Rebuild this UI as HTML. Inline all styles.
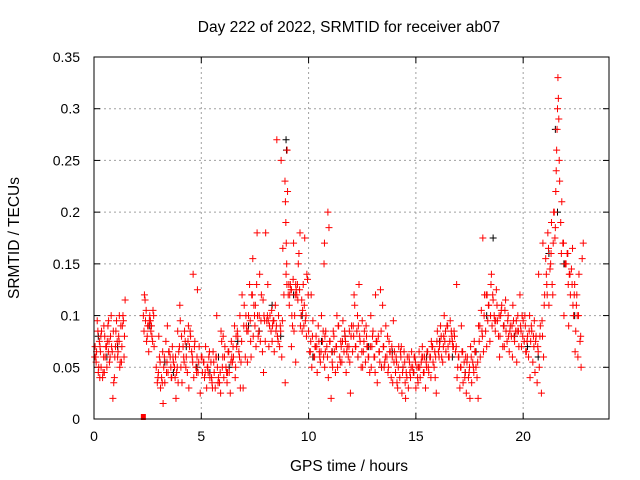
<!DOCTYPE html>
<html><head><meta charset="utf-8">
<style>
html,body{margin:0;padding:0;background:#fff;}
svg{display:block;font-family:"Liberation Sans",sans-serif;}
</style></head>
<body>
<svg id="chart" width="640" height="480" viewBox="0 0 640 480" xmlns="http://www.w3.org/2000/svg">
<rect x="0" y="0" width="640" height="480" fill="#fff"/>
<text x="349" y="32" font-size="15.5" text-anchor="middle" fill="#000">Day 222 of 2022, SRMTID for receiver ab07</text>
<g id="grid"></g>
<g id="ticks"></g>
<g id="black"></g>
<g id="red"></g>
<rect x="94" y="57" width="515" height="362" fill="none" stroke="#000" stroke-width="1"/>
<text x="349" y="471" font-size="15.5" text-anchor="middle" fill="#000">GPS time / hours</text>
<text transform="translate(19,238) rotate(-90)" font-size="15.5" text-anchor="middle" fill="#000">SRMTID / TECUs</text>
</svg>
<script>
const xTicks=[0,5,10,15,20];
const yTicks=[0,0.05,0.1,0.15,0.2,0.25,0.3,0.35];
const yTickLabels=["0","0.05","0.1","0.15","0.2","0.25","0.3","0.35"];
const redX=[0.05,0.1,0.15,0.2,0.25,0.3,0.35,0.4,0.45,0.5,0.55,0.6,0.65,0.7,0.75,0.8,0.85,0.9,0.95,1.0,1.05,1.1,1.15,1.2,1.25,1.3,1.35,1.4,1.45,0.12,0.22,0.32,0.42,0.52,0.62,0.72,0.82,0.92,1.02,1.12,1.22,1.32,1.42,0.08,0.28,0.48,0.68,0.88,1.08,1.28,
2.3,2.35,2.4,2.45,2.5,2.55,2.6,2.65,2.7,2.75,2.8,2.38,2.48,2.58,2.68,2.78,
2.9,2.95,3.0,3.05,3.1,3.15,3.2,3.25,3.3,3.35,3.4,3.45,3.5,3.55,3.6,3.65,3.7,3.75,3.8,3.85,3.9,3.95,4.0,4.05,4.1,4.15,4.2,4.25,4.3,4.35,4.4,4.45,4.5,4.55,4.6,4.65,4.7,4.75,4.8,4.85,4.9,4.95,3.02,3.22,3.42,3.62,3.82,4.02,4.22,4.42,4.62,4.82,3.88,3.92,
5.0,5.05,5.1,5.15,5.2,5.25,5.3,5.35,5.4,5.45,5.5,5.55,5.6,5.65,5.7,5.75,5.8,5.85,5.9,5.95,5.12,5.32,5.52,5.72,5.92,
6.0,6.05,6.1,6.15,6.2,6.25,6.3,6.35,6.4,6.45,6.5,6.55,6.6,6.65,6.7,6.75,6.8,6.85,6.9,6.95,6.02,6.22,6.42,6.62,6.82,
7.0,7.05,7.1,7.15,7.2,7.25,7.3,7.35,7.4,7.45,7.5,7.55,7.6,7.65,7.7,7.75,7.8,7.85,7.9,7.95,7.12,7.32,7.52,7.72,7.92,7.62,7.42,
8.0,8.05,8.1,8.15,8.2,8.25,8.3,8.35,8.4,8.45,8.5,8.55,8.6,8.65,8.7,8.75,8.8,8.85,8.12,8.32,8.52,8.72,
8.9,8.92,8.94,8.96,8.98,9.0,9.02,8.91,8.95,8.99,
9.05,9.1,9.15,9.2,9.25,9.3,9.35,9.4,9.45,9.5,9.55,9.6,9.65,9.7,9.75,9.8,9.85,9.9,9.95,9.12,9.22,9.32,9.42,9.52,9.62,9.72,9.82,9.92,9.2,9.4,
10.0,10.05,10.1,10.15,10.2,10.25,10.3,10.35,10.4,10.45,10.5,10.55,10.6,10.65,10.7,10.75,10.8,10.85,10.9,10.95,10.72,10.74,10.76,10.78,10.12,10.32,10.52,10.92,
11.0,11.05,11.1,11.15,11.2,11.25,11.3,11.35,11.4,11.45,11.5,11.55,11.6,11.65,11.7,11.75,11.8,11.85,11.9,11.95,11.12,11.32,11.52,11.72,11.92,
12.0,12.05,12.1,12.15,12.2,12.25,12.3,12.35,12.4,12.45,12.5,12.55,12.6,12.65,12.7,12.75,12.8,12.85,12.9,12.95,12.12,12.32,12.52,12.72,12.92,
13.0,13.05,13.1,13.15,13.2,13.25,13.3,13.35,13.4,13.45,13.5,13.55,13.6,13.65,13.7,13.75,13.8,13.85,13.9,13.95,13.12,13.32,13.52,13.72,13.92,
14.0,14.05,14.1,14.15,14.2,14.25,14.3,14.35,14.4,14.45,14.5,14.55,14.6,14.65,14.7,14.75,14.8,14.85,14.9,14.95,14.12,14.32,14.52,14.72,14.92,
15.0,15.05,15.1,15.15,15.2,15.25,15.3,15.35,15.4,15.45,15.5,15.55,15.6,15.65,15.7,15.75,15.8,15.85,15.9,15.95,15.12,15.32,15.52,15.72,15.92,
16.0,16.05,16.1,16.15,16.2,16.25,16.3,16.35,16.4,16.45,16.5,16.55,16.6,16.65,16.7,16.75,16.8,16.85,16.9,16.95,16.12,16.32,16.52,16.72,16.92,
17.0,17.05,17.1,17.15,17.2,17.25,17.3,17.35,17.4,17.45,17.5,17.55,17.6,17.65,17.7,17.75,17.8,17.85,17.9,17.95,17.12,17.32,17.52,17.72,17.92,
18.0,18.05,18.1,18.15,18.2,18.25,18.3,18.35,18.4,18.45,18.5,18.55,18.6,18.65,18.7,18.75,18.8,18.85,18.9,18.95,18.12,18.32,18.52,18.72,18.92,
19.0,19.05,19.1,19.15,19.2,19.25,19.3,19.35,19.4,19.45,19.5,19.55,19.6,19.65,19.7,19.75,19.8,19.85,19.9,19.95,19.12,19.32,19.52,19.72,19.92,
20.0,20.05,20.1,20.15,20.2,20.25,20.3,20.35,20.4,20.45,20.5,20.55,20.6,20.65,20.7,20.75,20.8,20.85,20.9,20.95,20.12,20.32,20.52,20.72,20.92,
21.0,21.05,21.1,21.15,21.2,21.25,21.3,21.35,21.4,21.45,21.5,21.52,21.54,21.56,21.58,21.6,21.62,21.64,21.66,21.68,21.7,21.75,21.8,21.85,21.9,21.95,21.12,21.32,21.42,21.48,
22.0,22.05,22.1,22.15,22.2,22.25,22.3,22.35,22.4,22.45,22.5,22.55,22.6,22.65,22.7,22.75,22.8,22.12,22.32,22.42,22.52,22.62,22.72];
const redY=[0.07,0.055,0.095,0.045,0.075,0.065,0.085,0.04,0.06,0.08,0.07,0.05,0.09,0.075,0.06,0.1,0.065,0.085,0.04,0.07,0.095,0.06,0.08,0.05,0.09,0.07,0.1,0.06,0.115,0.065,0.05,0.08,0.045,0.06,0.075,0.055,0.07,0.035,0.085,0.065,0.055,0.09,0.08,0.06,0.07,0.045,0.095,0.02,0.075,0.055,
0.1,0.12,0.095,0.075,0.09,0.065,0.1,0.085,0.08,0.105,0.07,0.115,0.08,0.095,0.09,0.1,
0.05,0.035,0.045,0.06,0.03,0.04,0.065,0.05,0.035,0.075,0.055,0.045,0.065,0.06,0.04,0.07,0.055,0.05,0.06,0.045,0.085,0.065,0.11,0.05,0.035,0.07,0.055,0.075,0.06,0.045,0.09,0.07,0.08,0.065,0.055,0.04,0.075,0.05,0.06,0.045,0.07,0.025,0.08,0.015,0.09,0.04,0.02,0.095,0.085,0.03,0.14,0.125,
0.05,0.035,0.06,0.045,0.055,0.04,0.07,0.03,0.05,0.06,0.04,0.055,0.035,0.065,0.045,0.03,0.06,0.05,0.04,0.035,0.025,0.075,0.055,0.045,0.03,
0.1,0.085,0.06,0.04,0.07,0.05,0.035,0.065,0.045,0.025,0.075,0.055,0.06,0.09,0.05,0.07,0.08,0.065,0.1,0.055,0.12,0.03,0.08,0.045,0.06,
0.08,0.03,0.11,0.06,0.09,0.055,0.1,0.13,0.075,0.12,0.155,0.11,0.09,0.07,0.18,0.08,0.1,0.075,0.12,0.065,0.045,0.095,0.085,0.06,0.11,0.14,0.1,
0.1,0.08,0.18,0.095,0.13,0.07,0.1,0.085,0.075,0.095,0.065,0.11,0.09,0.08,0.1,0.07,0.085,0.06,0.165,0.12,0.095,0.09,
0.27,0.25,0.23,0.21,0.19,0.17,0.15,0.26,0.22,0.035,
0.14,0.13,0.12,0.11,0.13,0.125,0.09,0.17,0.1,0.13,0.12,0.115,0.16,0.18,0.1,0.085,0.13,0.11,0.095,0.08,0.135,0.12,0.1,0.085,0.125,0.15,0.09,0.105,0.175,0.14,
0.07,0.055,0.085,0.065,0.075,0.05,0.095,0.06,0.07,0.08,0.045,0.09,0.065,0.055,0.1,0.075,0.06,0.05,0.085,0.07,0.2,0.185,0.15,0.17,0.08,0.065,0.12,0.07,
0.06,0.04,0.075,0.02,0.055,0.085,0.065,0.045,0.07,0.05,0.09,0.06,0.075,0.055,0.095,0.065,0.08,0.045,0.07,0.06,0.085,0.025,0.05,0.1,0.07,
0.075,0.055,0.09,0.065,0.08,0.11,0.07,0.085,0.06,0.13,0.075,0.05,0.095,0.065,0.085,0.055,0.08,0.07,0.06,0.045,0.1,0.07,0.12,0.09,0.05,
0.07,0.05,0.085,0.06,0.045,0.075,0.035,0.08,0.065,0.125,0.05,0.11,0.07,0.055,0.09,0.06,0.045,0.075,0.065,0.04,0.06,0.095,0.12,0.055,0.05,
0.05,0.035,0.065,0.045,0.055,0.03,0.07,0.04,0.06,0.025,0.05,0.065,0.035,0.045,0.06,0.03,0.055,0.04,0.065,0.05,0.045,0.06,0.035,0.07,0.02,
0.045,0.06,0.03,0.05,0.035,0.065,0.04,0.055,0.07,0.045,0.06,0.03,0.05,0.065,0.045,0.06,0.04,0.07,0.055,0.05,0.04,0.025,0.05,0.06,0.065,
0.075,0.06,0.085,0.065,0.07,0.09,0.06,0.055,0.08,0.075,0.065,0.09,0.07,0.06,0.095,0.085,0.075,0.07,0.08,0.065,0.13,0.05,0.075,0.1,0.06,
0.07,0.04,0.06,0.03,0.05,0.065,0.035,0.055,0.045,0.025,0.06,0.04,0.05,0.07,0.035,0.055,0.045,0.065,0.05,0.04,0.02,0.075,0.09,0.06,0.02,
0.075,0.09,0.06,0.105,0.08,0.065,0.12,0.085,0.07,0.095,0.11,0.075,0.13,0.09,0.115,0.1,0.085,0.125,0.095,0.08,0.06,0.1,0.175,0.12,0.14,
0.095,0.08,0.11,0.07,0.09,0.105,0.085,0.075,0.1,0.065,0.09,0.08,0.06,0.095,0.075,0.085,0.055,0.1,0.07,0.12,0.085,0.1,0.07,0.08,0.11,
0.085,0.07,0.095,0.075,0.09,0.065,0.08,0.06,0.1,0.075,0.085,0.055,0.07,0.045,0.08,0.035,0.065,0.05,0.09,0.025,0.08,0.06,0.065,0.04,0.095,
0.14,0.17,0.12,0.155,0.13,0.18,0.11,0.145,0.16,0.13,0.17,0.2,0.185,0.22,0.24,0.26,0.28,0.3,0.33,0.31,0.29,0.25,0.23,0.19,0.21,0.17,0.1,0.15,0.12,0.19,
0.2,0.175,0.15,0.16,0.13,0.14,0.12,0.145,0.165,0.1,0.13,0.085,0.12,0.06,0.14,0.075,0.05,0.155,0.17,0.09,0.11,0.065,0.1];
const redX2=[0.03,0.18,0.33,0.46,0.58,0.77,0.97,1.17,1.37,0.27,0.67,1.18,2.33,2.43,2.53,2.63,2.73,2.98,3.08,3.18,3.28,3.38,3.48,3.58,3.68,3.78,3.98,4.08,4.18,4.28,4.38,4.48,4.58,4.68,4.78,4.88,5.03,5.18,5.28,5.38,5.48,5.58,5.68,5.78,5.88,5.98,6.08,6.18,6.28,6.38,6.48,6.58,6.68,6.78,6.88,6.98,7.08,7.18,7.28,7.38,7.48,7.58,7.68,7.78,7.88,7.98,8.08,8.18,8.28,8.38,8.48,8.58,8.68,8.78,9.08,9.18,9.28,9.38,9.48,9.58,9.68,9.78,9.88,9.98,10.08,10.18,10.28,10.38,10.48,10.58,10.68,10.88,10.98,11.08,11.18,11.28,11.38,11.48,11.58,11.68,11.78,11.88,11.98,12.08,12.18,12.28,12.38,12.48,12.58,12.68,12.78,12.88,12.98,13.08,13.18,13.28,13.38,13.48,13.58,13.68,13.78,13.88,13.98,14.08,14.18,14.28,14.38,14.48,14.58,14.68,14.78,14.88,14.98,15.08,15.18,15.28,15.38,15.48,15.58,15.68,15.78,15.88,15.98,16.08,16.18,16.28,16.38,16.48,16.58,16.68,16.78,16.88,16.98,17.08,17.18,17.28,17.38,17.48,17.58,17.68,17.78,17.88,17.98,18.08,18.18,18.28,18.38,18.48,18.58,18.68,18.78,18.88,18.98,19.08,19.18,19.28,19.38,19.48,19.58,19.68,19.78,19.88,19.98,20.08,20.18,20.28,20.38,20.48,20.58,20.68,20.78,20.88,20.98,21.08,21.18,21.28,21.38,21.78,21.88,21.98,22.08,22.18,22.28,22.38,22.48,22.58,22.68,22.78];
const redY2=[0.06,0.085,0.05,0.09,0.07,0.08,0.06,0.075,0.095,0.04,0.065,0.1,0.085,0.105,0.09,0.095,0.075,0.04,0.055,0.035,0.06,0.045,0.065,0.05,0.06,0.04,0.07,0.08,0.06,0.05,0.075,0.085,0.06,0.07,0.045,0.055,0.06,0.045,0.05,0.065,0.04,0.055,0.06,0.035,0.045,0.05,0.06,0.045,0.065,0.055,0.07,0.04,0.085,0.06,0.075,0.09,0.1,0.085,0.095,0.12,0.1,0.13,0.085,0.095,0.115,0.075,0.1,0.09,0.105,0.095,0.085,0.075,0.09,0.095,0.13,0.125,0.135,0.12,0.13,0.125,0.115,0.09,0.1,0.12,0.065,0.08,0.06,0.07,0.075,0.065,0.085,0.06,0.075,0.065,0.08,0.07,0.09,0.055,0.075,0.085,0.065,0.07,0.08,0.09,0.07,0.1,0.08,0.065,0.075,0.09,0.06,0.07,0.08,0.06,0.075,0.065,0.085,0.07,0.06,0.08,0.065,0.07,0.055,0.06,0.05,0.065,0.045,0.055,0.04,0.06,0.05,0.045,0.055,0.04,0.05,0.06,0.045,0.055,0.05,0.06,0.07,0.065,0.075,0.06,0.08,0.07,0.085,0.09,0.075,0.08,0.085,0.07,0.06,0.05,0.065,0.04,0.055,0.045,0.06,0.05,0.065,0.055,0.09,0.085,0.1,0.12,0.11,0.1,0.12,0.095,0.11,0.1,0.105,0.09,0.115,0.095,0.085,0.09,0.08,0.095,0.085,0.09,0.08,0.1,0.075,0.085,0.09,0.08,0.075,0.07,0.08,0.095,0.11,0.14,0.165,0.15,0.12,0.16,0.17,0.15,0.16,0.14,0.13,0.12,0.11,0.1,0.08];
const blackX=[0.2,0.6,1.1,2.6,3.3,3.7,4.3,4.8,5.4,5.8,6.3,6.7,7.2,7.7,8.3,8.7,8.95,8.97,9.3,9.7,10.2,10.6,11.1,11.7,12.3,12.8,13.4,13.9,14.4,14.9,15.5,16.1,16.7,17.3,17.8,18.3,18.6,19.1,19.6,20.2,20.7,21.2,21.5,21.6,21.9,22.4];
const blackY=[0.08,0.06,0.07,0.09,0.055,0.045,0.07,0.05,0.045,0.06,0.05,0.075,0.09,0.085,0.11,0.08,0.27,0.26,0.12,0.1,0.06,0.075,0.065,0.08,0.06,0.07,0.05,0.065,0.05,0.045,0.06,0.075,0.06,0.045,0.065,0.1,0.175,0.09,0.08,0.07,0.06,0.16,0.28,0.2,0.15,0.1];
const X0=94,X1=609,Y0=419,Y1=57,XMAX=24,YMAX=0.35;
function sx(v){return X0+(X1-X0)*v/XMAX;}
function sy(v){return Y0-(Y0-Y1)*v/YMAX;}
const NS="http://www.w3.org/2000/svg";
function mk(tag,attrs,parent){const e=document.createElementNS(NS,tag);for(const k in attrs)e.setAttribute(k,attrs[k]);parent.appendChild(e);return e;}
const grid=document.getElementById('grid'),ticks=document.getElementById('ticks');
xTicks.forEach(t=>{
  const x=sx(t);
  if(t>0&&t<XMAX){const l=mk('line',{x1:x,y1:Y1,x2:x,y2:Y0,stroke:'#a0a0a0','stroke-dasharray':'2,3'},grid);
  
  }
  mk('line',{x1:x,y1:Y0,x2:x,y2:Y0-6,stroke:'#000'},ticks);
  mk('line',{x1:x,y1:Y1,x2:x,y2:Y1+6,stroke:'#000'},ticks);
  const tx=mk('text',{x:x,y:Y0+22,'font-size':14,'text-anchor':'middle',fill:'#000'},ticks);
  tx.textContent=t;
  
  
});
yTicks.forEach((t,i)=>{
  const y=sy(t);
  if(t>0&&t<YMAX){const l=mk('line',{x1:X0,y1:y,x2:X1,y2:y,stroke:'#a0a0a0','stroke-dasharray':'2,3'},grid);
  
  }
  mk('line',{x1:X0,y1:y,x2:X0+6,y2:y,stroke:'#000'},ticks);
  mk('line',{x1:X1,y1:y,x2:X1-6,y2:y,stroke:'#000'},ticks);
  const tx=mk('text',{x:X0-14,y:y+5,'font-size':14,'text-anchor':'end',fill:'#000'},ticks);
  tx.textContent=yTickLabels[i];
  
  
});
function plus(g,xs,ys,col,name){
  let d='';
  for(let i=0;i<xs.length;i++){const x=sx(xs[i]),y=sy(ys[i]);d+=`M${x-3.5},${y}h7M${x},${y-3.5}v7`;}
  const p=mk('path',{d:d,stroke:col,'stroke-width':1,fill:'none'},g);
  
  
}
plus(document.getElementById('black'),blackX,blackY,'#000','black-points');
plus(document.getElementById('red'),redX,redY,'#f00','red-points');
plus(document.getElementById('red'),redX2,redY2,'#f00','red-points-extra');
const zr=mk('rect',{x:sx(2.3)-2.5,y:sy(0)-5,width:5,height:6,fill:'#f00'},document.getElementById('red'));


</script>
</body></html>
